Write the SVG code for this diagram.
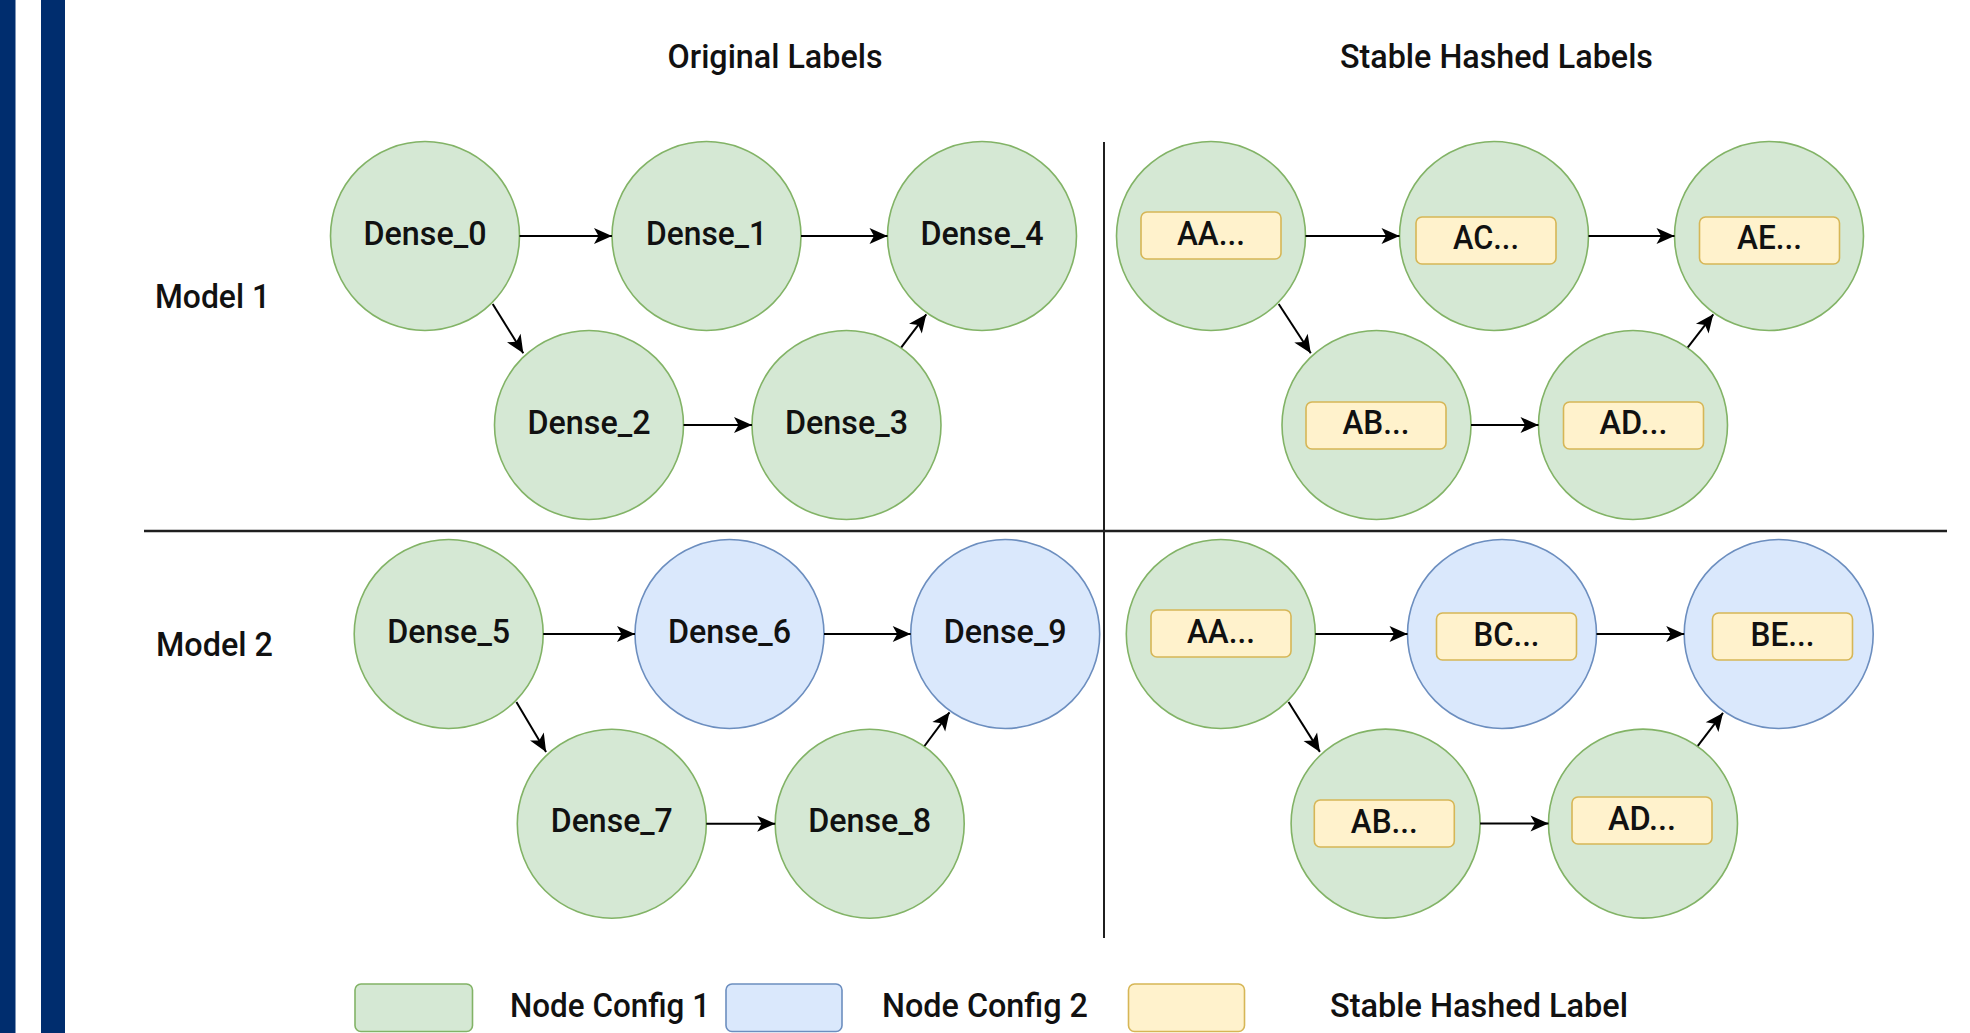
<svg xmlns="http://www.w3.org/2000/svg" width="1970" height="1033" viewBox="0 0 1970 1033">
  <style>
    text { font-family: Roboto, "Liberation Sans", sans-serif; font-size: 33px; font-weight: 500; fill: #111; }
    .mid { text-anchor: middle; }
    .cfg1 { fill: #d5e8d4; stroke: #82b366; stroke-width: 1.6; }
    .cfg2 { fill: #dae8fc; stroke: #6c8ebf; stroke-width: 1.6; }
    .hash { fill: #fff2cc; stroke: #d6b656; stroke-width: 1.6; }
    .edge { stroke: #000; stroke-width: 2; fill: none; marker-end: url(#arrow); }
    .divider { stroke: #1f1f1f; stroke-width: 2.5; }
    .bar { fill: #002d6e; }
  </style>
  <defs>
    <marker id="arrow" markerUnits="userSpaceOnUse" markerWidth="20" markerHeight="17" refX="18" refY="8" orient="auto" overflow="visible">
      <path d="M18,8 L0,0 L4.5,8 L0,16 Z" fill="#000"/>
    </marker>
  </defs>

  <rect width="1970" height="1033" fill="#fff"/>

  <!-- side bars -->
  <rect class="bar" x="0" y="0" width="15.5" height="1033"/>
  <rect class="bar" x="41" y="0" width="24" height="1033"/>

  <!-- headings and row labels -->
  <text class="mid" x="775" y="68" textLength="215" lengthAdjust="spacingAndGlyphs">Original Labels</text>
  <text class="mid" x="1496.5" y="68" textLength="313" lengthAdjust="spacingAndGlyphs">Stable Hashed Labels</text>
  <text x="155" y="307.5" textLength="115" lengthAdjust="spacingAndGlyphs">Model 1</text>
  <text x="156" y="656" textLength="117" lengthAdjust="spacingAndGlyphs">Model 2</text>

  <!-- quadrant dividers -->
  <line class="divider" x1="144" y1="531" x2="1947" y2="531"/>
  <line class="divider" x1="1104" y1="142" x2="1104" y2="938" style="stroke-width:2"/>

  <!-- Model 1, original labels -->
  <g id="node-dense-0"><circle class="cfg1" cx="425" cy="236" r="94.5"/><text class="mid" x="425" y="244.5" textLength="123" lengthAdjust="spacingAndGlyphs">Dense_0</text></g>
  <g id="node-dense-1"><circle class="cfg1" cx="706.5" cy="236" r="94.5"/><text class="mid" x="706.5" y="244.5" textLength="121" lengthAdjust="spacingAndGlyphs">Dense_1</text></g>
  <g id="node-dense-4"><circle class="cfg1" cx="982" cy="236" r="94.5"/><text class="mid" x="982" y="244.5" textLength="123" lengthAdjust="spacingAndGlyphs">Dense_4</text></g>
  <g id="node-dense-2"><circle class="cfg1" cx="589" cy="425" r="94.5"/><text class="mid" x="589" y="433.5" textLength="123" lengthAdjust="spacingAndGlyphs">Dense_2</text></g>
  <g id="node-dense-3"><circle class="cfg1" cx="846.5" cy="425" r="94.5"/><text class="mid" x="846.5" y="433.5" textLength="123" lengthAdjust="spacingAndGlyphs">Dense_3</text></g>

  <!-- Model 1, hashed labels -->
  <g id="node-m1-aa"><circle class="cfg1" cx="1211" cy="236" r="94.5"/><rect class="hash" x="1141" y="212" width="140" height="47" rx="6"/><text class="mid" x="1211" y="244.5" textLength="68" lengthAdjust="spacingAndGlyphs">AA...</text></g>
  <g id="node-m1-ac"><circle class="cfg1" cx="1494" cy="236" r="94.5"/><rect class="hash" x="1416" y="217" width="140" height="47" rx="6"/><text class="mid" x="1486" y="249" textLength="66" lengthAdjust="spacingAndGlyphs">AC...</text></g>
  <g id="node-m1-ae"><circle class="cfg1" cx="1769" cy="236" r="94.5"/><rect class="hash" x="1699.5" y="217" width="140" height="47" rx="6"/><text class="mid" x="1769.5" y="249" textLength="65" lengthAdjust="spacingAndGlyphs">AE...</text></g>
  <g id="node-m1-ab"><circle class="cfg1" cx="1376.5" cy="425" r="94.5"/><rect class="hash" x="1306" y="402" width="140" height="47" rx="6"/><text class="mid" x="1376" y="434" textLength="67" lengthAdjust="spacingAndGlyphs">AB...</text></g>
  <g id="node-m1-ad"><circle class="cfg1" cx="1633" cy="425" r="94.5"/><rect class="hash" x="1563.5" y="402" width="140" height="47" rx="6"/><text class="mid" x="1633.5" y="434" textLength="68" lengthAdjust="spacingAndGlyphs">AD...</text></g>

  <!-- Model 2, original labels -->
  <g id="node-dense-5"><circle class="cfg1" cx="448.7" cy="634" r="94.5"/><text class="mid" x="448.7" y="642.5" textLength="123" lengthAdjust="spacingAndGlyphs">Dense_5</text></g>
  <g id="node-dense-6"><circle class="cfg2" cx="729.5" cy="634" r="94.5"/><text class="mid" x="729.5" y="642.5" textLength="123" lengthAdjust="spacingAndGlyphs">Dense_6</text></g>
  <g id="node-dense-9"><circle class="cfg2" cx="1005.2" cy="634" r="94.5"/><text class="mid" x="1005.2" y="642.5" textLength="123" lengthAdjust="spacingAndGlyphs">Dense_9</text></g>
  <g id="node-dense-7"><circle class="cfg1" cx="611.8" cy="823.7" r="94.5"/><text class="mid" x="611.8" y="832.2" textLength="122" lengthAdjust="spacingAndGlyphs">Dense_7</text></g>
  <g id="node-dense-8"><circle class="cfg1" cx="869.7" cy="823.7" r="94.5"/><text class="mid" x="869.7" y="832.2" textLength="123" lengthAdjust="spacingAndGlyphs">Dense_8</text></g>

  <!-- Model 2, hashed labels -->
  <g id="node-m2-aa"><circle class="cfg1" cx="1220.8" cy="634" r="94.5"/><rect class="hash" x="1151" y="610" width="140" height="47" rx="6"/><text class="mid" x="1221" y="643" textLength="68" lengthAdjust="spacingAndGlyphs">AA...</text></g>
  <g id="node-m2-bc"><circle class="cfg2" cx="1502" cy="634" r="94.5"/><rect class="hash" x="1436.5" y="613" width="140" height="47" rx="6"/><text class="mid" x="1506.5" y="645.5" textLength="66" lengthAdjust="spacingAndGlyphs">BC...</text></g>
  <g id="node-m2-be"><circle class="cfg2" cx="1778.7" cy="634" r="94.5"/><rect class="hash" x="1712.5" y="613" width="140" height="47" rx="6"/><text class="mid" x="1782.5" y="645.5" textLength="64" lengthAdjust="spacingAndGlyphs">BE...</text></g>
  <g id="node-m2-ab"><circle class="cfg1" cx="1385.6" cy="823.6" r="94.5"/><rect class="hash" x="1314.3" y="800" width="140" height="47" rx="6"/><text class="mid" x="1384.3" y="833" textLength="67" lengthAdjust="spacingAndGlyphs">AB...</text></g>
  <g id="node-m2-ad"><circle class="cfg1" cx="1643" cy="823.6" r="94.5"/><rect class="hash" x="1572" y="797" width="140" height="47" rx="6"/><text class="mid" x="1642" y="829.5" textLength="68" lengthAdjust="spacingAndGlyphs">AD...</text></g>

  <!-- connectors -->
  <g id="connectors">
    <line class="edge" x1="519.5" y1="236" x2="612" y2="236"/>
    <line class="edge" x1="801" y1="236" x2="887.5" y2="236"/>
    <line class="edge" x1="492.7" y1="304" x2="523.3" y2="353.3"/>
    <line class="edge" x1="683.5" y1="425" x2="752" y2="425"/>
    <line class="edge" x1="901.3" y1="347.3" x2="926.3" y2="314.3"/>

    <line class="edge" x1="1305.5" y1="236" x2="1399.5" y2="236"/>
    <line class="edge" x1="1588.5" y1="236" x2="1674.5" y2="236"/>
    <line class="edge" x1="1278.7" y1="304" x2="1310.8" y2="353.3"/>
    <line class="edge" x1="1471" y1="425" x2="1538.5" y2="425"/>
    <line class="edge" x1="1687.8" y1="347.3" x2="1713.3" y2="314.3"/>

    <line class="edge" x1="543.2" y1="634" x2="635" y2="634"/>
    <line class="edge" x1="824" y1="634" x2="910.7" y2="634"/>
    <line class="edge" x1="516.4" y1="702" x2="546.1" y2="752"/>
    <line class="edge" x1="706.3" y1="823.7" x2="775.2" y2="823.7"/>
    <line class="edge" x1="924.5" y1="746" x2="949.5" y2="712.3"/>

    <line class="edge" x1="1315.3" y1="634" x2="1407.5" y2="634"/>
    <line class="edge" x1="1596.5" y1="634" x2="1684.2" y2="634"/>
    <line class="edge" x1="1288.5" y1="702" x2="1319.9" y2="751.9"/>
    <line class="edge" x1="1480.1" y1="823.6" x2="1548.5" y2="823.6"/>
    <line class="edge" x1="1697.8" y1="745.9" x2="1723" y2="712.9"/>
  </g>

  <!-- legend -->
  <g id="legend">
    <rect class="cfg1" x="355" y="984" width="117.5" height="47.5" rx="6"/>
    <text x="510" y="1017" textLength="200" lengthAdjust="spacingAndGlyphs">Node Config 1</text>
    <rect class="cfg2" x="726" y="984" width="116" height="47.5" rx="6"/>
    <text x="882" y="1017" textLength="206" lengthAdjust="spacingAndGlyphs">Node Config 2</text>
    <rect class="hash" x="1128.5" y="984" width="116" height="47.5" rx="6"/>
    <text x="1330" y="1017" textLength="298" lengthAdjust="spacingAndGlyphs">Stable Hashed Label</text>
  </g>
</svg>
